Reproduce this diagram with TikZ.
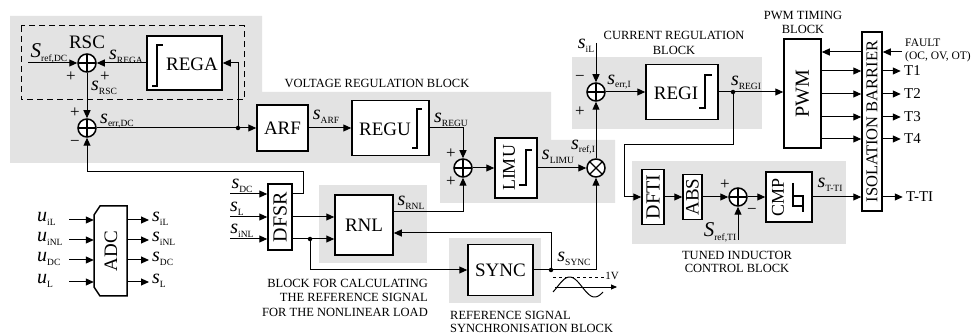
\documentclass[tikz,border=0pt]{standalone}
\usepackage{fontspec}
\setmainfont{Liberation Serif}
\usetikzlibrary{arrows.meta,calc}
\newcommand\fs[1]{\fontsize{#1}{#1}\selectfont}
\newcommand\sgl[2]{{\fs{20}\itshape #1}\raisebox{-3.5pt}{\fs{9.5}#2}}
\newcommand\sgL[2]{{\fs{21}\itshape #1}\raisebox{-4pt}{\fs{9.5}#2}}
\definecolor{bggray}{RGB}{227,227,227}
\tikzset{
 blk/.style={draw, line width=1.5pt, fill=white, inner sep=0pt, font=\fs{19}},
 sumc/.style={circle, draw, line width=1.5pt, fill=white, minimum size=18pt, inner sep=0pt,
   path picture={\draw[line width=1.2pt] (path picture bounding box.north) -- (path picture bounding box.south) (path picture bounding box.west) -- (path picture bounding box.east);}},
 mulc/.style={circle, draw, line width=1.5pt, fill=white, minimum size=18pt, inner sep=0pt,
   path picture={\draw[line width=1.2pt] ([shift={(45:9pt)}]path picture bounding box.center) -- ([shift={(225:9pt)}]path picture bounding box.center) ([shift={(135:9pt)}]path picture bounding box.center) -- ([shift={(-45:9pt)}]path picture bounding box.center);}},
 arr/.style={line width=1pt, -{Triangle[length=8pt,width=7pt]}},
 symln/.style={line width=1.2pt},
 lbl/.style={inner sep=0pt, font=\fs{15}},
 pmsign/.style={inner sep=0pt, font=\fs{17}},
 captxt/.style={inner sep=0pt, font=\fs{12.5}},
 jdot/.style={circle, fill, inner sep=0pt, minimum size=4.5pt},
}
\begin{document}
\begin{tikzpicture}[x=1pt,y=-1pt]
\useasboundingbox (0,0) rectangle (979,336);
% backgrounds
\fill[bggray] (10,16) -- (262,16) -- (262,92) -- (551,92) -- (551,140) -- (615,140) -- (615,203) -- (440,203) -- (440,163) -- (10,163) -- cycle;
\fill[bggray] (572,57) rectangle (762,129);
\fill[bggray] (319,185) rectangle (427,263);
\fill[bggray] (449,238) rectangle (541,303);
\fill[bggray] (632,161) rectangle (846,244);
\draw[line width=1pt, dash pattern=on 6pt off 4pt] (21,26) rectangle (244,100);

% blocks
\node[sumc] (sR) at (87,63) {};
\node[sumc] (sD) at (87,128) {};
\node[blk, minimum width=75pt, minimum height=54pt] (REGA) at (184.5,63) {};
\node[inner sep=0pt, font=\fs{19}] (REGAt) at (192,64) {REGA};
\draw[symln] (152,86) -- (157,86) -- (157,45) -- (163,45);
\node[blk, minimum width=51pt, minimum height=46pt] (ARF) at (282.5,128) {ARF};
\node[blk, minimum width=77pt, minimum height=55pt] (REGU) at (390.5,128) {};
\node[inner sep=0pt, font=\fs{19}] (REGUt) at (385,129) {REGU};
\draw[symln] (412,148) -- (417,148) -- (417,109) -- (422,109);
\node[sumc] (sU) at (463,168) {};
\node[blk, minimum width=42pt, minimum height=60pt] (LIMU) at (516,168) {};
\node[inner sep=0pt, font=\fs{18}] (LIMUt) at (509,168) {\rotatebox{90}{LIMU}};
\draw[symln] (519,185) -- (526,185) -- (526,150) -- (532,150);
\node[mulc] (mul) at (596,168) {};
\node[sumc] (sI) at (596,92) {};
\node[blk, minimum width=72pt, minimum height=55pt] (REGI) at (682,92) {};
\node[inner sep=0pt, font=\fs{19}] (REGIt) at (676,93) {REGI};
\draw[symln] (699,108) -- (705,108) -- (705,75) -- (712,75);
\node[blk, minimum width=37pt, minimum height=109pt, font=\fs{20}] (PWM) at (802.5,93.5) {\rotatebox{90}{PWM}};
\node[blk, minimum width=20pt, minimum height=179pt, font=\fs{16.5}] (ISO) at (872,121.5) {\rotatebox{90}{ISOLATION BARRIER}};
\node[blk, minimum width=24pt, minimum height=66pt, font=\fs{20}] (DFSR) at (280,217) {\rotatebox{90}{DFSR}};
\node[blk, minimum width=58pt, minimum height=60pt] (RNL) at (364,225) {RNL};
\node[blk, minimum width=65pt, minimum height=51pt] (SYNC) at (500.5,270) {SYNC};
\node[blk, minimum width=22pt, minimum height=55pt, font=\fs{20}] (DFTI) at (653,197) {\rotatebox{90}{DFTI}};
\node[blk, minimum width=19pt, minimum height=45pt, font=\fs{19}] (ABS) at (692.5,197) {\rotatebox{90}{ABS}};
\node[sumc] (sT) at (738,197) {};
\node[blk, minimum width=46pt, minimum height=50pt] (CMP) at (789,197) {};
\node[inner sep=0pt, font=\fs{18}] (CMPt) at (778,197) {\rotatebox{90}{CMP}};
\draw[symln] (793,183) -- (793,206) -- (803,206) -- (803,196) -- (793,196) (803,206) -- (803,212);
% ADC
\node[minimum width=33pt, minimum height=90pt, inner sep=0pt] (ADC) at (110.5,251) {};
\draw[line width=1.5pt, fill=white] (100,206) -- (127,206) -- (127,296) -- (100,296) -- (94,287) -- (94,215) -- cycle;
\node[inner sep=0pt, font=\fs{19}] (ADCt) at (111,251) {\rotatebox{90}{ADC}};

% connectors
\coordinate (inRef) at (28,63);
\draw[arr] (inRef) -- (sR.west);
\draw[arr] (REGA.west) -- (sR.east);
\draw[arr] (sR.south) -- (sD.north);
\draw[arr] (sD.east) -- (ARF.west);
\node[jdot] (d1) at (238,128) {};
\draw[arr] (d1.center) |- (REGA.east);
\draw[arr] (ARF.east) -- (REGU.west);
\draw[arr] (REGU.east) -| (sU.north);
\draw[arr] (sU.east) -- (LIMU.west);
\draw[arr] (LIMU.east) -- (mul.west);
\draw[arr] (mul.north) -- (sI.south);
\coordinate (iLtop) at (596,43);
\draw[arr] (iLtop) -- (sI.north);
\draw[arr] (sI.east) -- (REGI.west);
\node[jdot] (d2) at (733,92) {};
\draw[arr] (REGI.east) -- (REGI.east -| PWM.west);
\draw[arr] (d2.center) |- (624,145) |- (DFTI.west);
\draw[arr] (DFTI.east) -- (ABS.west);
\draw[arr] (ABS.east) -- (sT.west);
\draw[arr] (sT.east) -- (CMP.west);
\coordinate (refTI) at (738,240);
\draw[arr] (refTI) -- (sT.south);
\draw[arr] (CMP.east) -- (CMP.east -| ISO.west);
\draw[arr] (ISO.east |- CMP.east) -- ++(20,0);
% PWM - isolation
\draw[arr] (ISO.west |- 0,52) -- (PWM.east |- 0,52);
\foreach \yy/\tt in {71/T1,94/T2,117/T3,139/T4}{
  \draw[arr] (PWM.east |- 0,\yy) -- (ISO.west |- 0,\yy);
  \draw[arr] (ISO.east |- 0,\yy) -- ++(18,0);
  \node[anchor=west, inner sep=0pt, font=\fs{15}] at (904,\yy) {\tt};
}
\coordinate (fault) at (902,52);
\draw[arr] (fault) -- (ISO.east |- fault);
% DFSR and RNL
\draw[arr] (DFSR.east |- 0,194) -- (303,194) -- (303,172) -| (sD.south);
\foreach \yy in {194,217,239}{ \draw[arr] (230,\yy) -- (DFSR.west |- 0,\yy); }
\draw[arr] (DFSR.east) -- (DFSR.east -| RNL.west);
\node[jdot] (d3) at (310,239) {};
\draw[arr] (DFSR.east |- d3) -- (RNL.west |- d3);
\draw[arr] (d3.center) |- (SYNC.west);
\draw[arr] (RNL.east |- 0,212) -| (sU.south);
\node[jdot] (d4) at (551,270) {};
\draw[arr] (SYNC.east) -| (mul.south);
\draw[arr] (d4.center) |- (RNL.east |- 0,233);
% ADC arrows
\foreach \yy in {220,240,260,282}{
  \draw[arr] (69,\yy) -- (ADC.west |- 0,\yy);
  \draw[arr] (ADC.east |- 0,\yy) -- (149,\yy);
}
% sine
\draw[line width=0.8pt, -{Triangle[length=6pt,width=5pt]}] (555,287) -- (617,287);
\draw[line width=1pt] plot[domain=-30:330, samples=60] ({553+(\x+30)/360*50}, {287-10*sin(\x)});
\draw[line width=0.6pt, dashed] (553,277) -- (604,277);
\node[inner sep=0pt, font=\fs{11}] (oneV) at (612,276) {1V};

% labels
\node[lbl] (lRefDC) at (49,53) {\sgL{S}{ref,DC}};
\node[lbl] (lREGA) at (126,57) {\sgl{s}{REGA}};
\node[inner sep=0pt, font=\fs{19}] (lRSC) at (87,42) {RSC};
\node[pmsign] at (71,77) {+};
\node[pmsign] at (105,77) {+};
\node[lbl] (lRSCs) at (104,88) {\sgl{s}{RSC}};
\node[pmsign] at (75,113) {+};
\node[pmsign] at (75,143) {−};
\node[lbl] (lerrDC) at (117,121) {\sgl{s}{err,DC}};
\node[lbl] (lARF) at (326,117) {\sgl{s}{ARF}};
\node[lbl] (lREGU) at (451,120) {\sgl{s}{REGU}};
\node[captxt] (cVR) at (377,83) {VOLTAGE REGULATION BLOCK};
\node[pmsign] at (451,154) {+};
\node[pmsign] at (451,182) {+};
\node[lbl] (lLIMU) at (558,157) {\sgl{s}{LIMU}};
\node[lbl] (lrefI) at (583,147) {\sgl{s}{ref,I}};
\node[lbl] (liL) at (586,46) {\sgl{s}{iL}};
\node[pmsign] at (580,78) {−};
\node[pmsign] at (580,112) {+};
\node[lbl] (lerrI) at (619,82) {\sgl{s}{err,I}};
\node[lbl] (lREGI) at (746,83) {\sgl{s}{REGI}};
\node[captxt] (cCR1) at (674,35) {CURRENT REGULATION};
\node[captxt] (cCR2) at (674,50) {BLOCK};
\node[captxt] (cPW1) at (803,15) {PWM TIMING};
\node[captxt] (cPW2) at (803,29) {BLOCK};
\node[captxt, anchor=west, font=\fs{11.5}] (cF1) at (905,43) {FAULT};
\node[captxt, anchor=west, font=\fs{11.5}] (cF2) at (905,57) {(OC, OV, OT)};
\node[anchor=west, inner sep=0pt, font=\fs{15}] (lTTI) at (906,197) {T-TI};
\node[lbl] (lDC) at (242,186) {\sgl{s}{DC}};
\node[lbl] (lL) at (237,209) {\sgl{s}{L}};
\node[lbl] (liNL) at (242,231) {\sgl{s}{iNL}};
\node[lbl] (lRNL) at (411,203) {\sgl{s}{RNL}};
\node[captxt, anchor=east] (cB1) at (428,283) {BLOCK FOR CALCULATING};
\node[captxt, anchor=east] (cB2) at (428,297) {THE REFERENCE SIGNAL};
\node[captxt, anchor=east] (cB3) at (428,312) {FOR THE NONLINEAR LOAD};
\node[lbl] (lSYNC) at (574,259) {\sgl{s}{SYNC}};
\node[captxt, anchor=west] (cS1) at (450,315) {REFERENCE SIGNAL};
\node[captxt, anchor=west] (cS2) at (450,328) {SYNCHRONISATION BLOCK};
\node[pmsign] at (725,185) {+};
\node[pmsign] at (752,211) {−};
\node[lbl] (lrefTI) at (720,232) {\sgL{S}{ref,TI}};
\node[lbl] (lTTIs) at (830,185) {\sgl{s}{T-TI}};
\node[captxt] (cT1) at (737,255) {TUNED INDUCTOR};
\node[captxt] (cT2) at (737,268) {CONTROL BLOCK};
% ADC labels
\node[lbl, anchor=west] at (37,219) {\sgl{u}{iL}};
\node[lbl, anchor=west] at (37,239) {\sgl{u}{iNL}};
\node[lbl, anchor=west] at (37,259) {\sgl{u}{DC}};
\node[lbl, anchor=west] at (37,281) {\sgl{u}{L}};
\node[lbl, anchor=west] at (152,219) {\sgl{s}{iL}};
\node[lbl, anchor=west] at (152,239) {\sgl{s}{iNL}};
\node[lbl, anchor=west] at (152,259) {\sgl{s}{DC}};
\node[lbl, anchor=west] at (152,281) {\sgl{s}{L}};
\end{tikzpicture}
\end{document}
